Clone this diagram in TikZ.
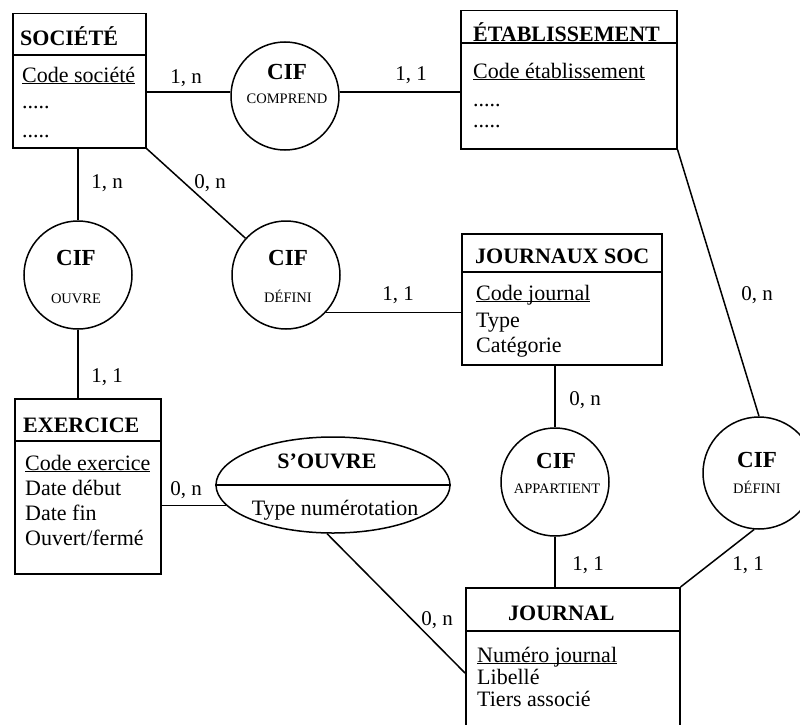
\documentclass[tikz,border=0pt]{standalone}
\usepackage{fontspec}
\setmainfont{Liberation Serif}
\usetikzlibrary{shapes.geometric}
\newcommand\ulk[1]{\underline{\smash{#1}}}
\begin{document}
\begin{tikzpicture}[x=1pt,y=-1pt,
  ent/.style={draw, line width=1.5pt, rectangle, inner sep=0, anchor=north west},
  rel/.style={draw, circle, line width=1.5pt, minimum size=108, inner sep=0},
  txt/.style={inner sep=0, anchor=base west, font=\fontsize{22}{26}\selectfont},
  ttl/.style={inner sep=0, anchor=base west, font=\fontsize{22}{26}\selectfont\bfseries},
  cif/.style={inner sep=0, anchor=base, font=\fontsize{23}{26}\selectfont\bfseries},
  sml/.style={inner sep=0, anchor=base, font=\fontsize{14.5}{16}\selectfont},
  card/.style={inner sep=0, anchor=base, font=\fontsize{21}{24}\selectfont},
  lnk/.style={line width=1.5pt},
  div/.style={line width=1.5pt}]
\useasboundingbox (0,0) rectangle (800,725);
\fill[white] (0,0) rectangle (800,725);

% ---------- entities ----------
\node[ent, minimum width=133, minimum height=134] (soc) at (12,13) {};
\draw[div] (soc.west |- 0,55) -- (soc.east |- 0,55);
\node[ttl] (socT) at (20,46) {SOCIÉTÉ};
\node[txt] (socA) at (22,82) {\ulk{Code société}};
\node[txt] (socB) at (22,108) {.....};
\node[txt] (socC) at (22,137) {.....};

\node[ent, minimum width=216, minimum height=138] (etab) at (460,10) {};
\draw[div] (etab.west |- 0,43) -- (etab.east |- 0,43);
\node[ttl] (etabT) at (473,42) {ÉTABLISSEMENT};
\node[txt] (etabA) at (473,78) {\ulk{Code établissement}};
\node[txt] (etabB) at (473,106) {.....};
\node[txt] (etabC) at (473,127) {.....};

\node[ent, minimum width=200, minimum height=131] (js) at (461,233) {};
\draw[div] (js.west |- 0,272) -- (js.east |- 0,272);
\node[ttl] (jsT) at (475,263) {JOURNAUX SOC};
\node[txt] (jsA) at (476,300) {\ulk{Code journal}};
\node[txt] (jsB) at (476,327) {Type};
\node[txt] (jsC) at (476,352) {Catégorie};

\node[ent, minimum width=146, minimum height=175] (ex) at (14,398) {};
\draw[div] (ex.west |- 0,441) -- (ex.east |- 0,441);
\node[ttl] (exT) at (23,432) {EXERCICE};
\node[txt] (exA) at (25,470) {\ulk{Code exercice}};
\node[txt] (exB) at (25,495) {Date début};
\node[txt] (exC) at (25,520) {Date fin};
\node[txt] (exD) at (25,545) {Ouvert/fermé};

\node[ent, minimum width=214, minimum height=150] (jour) at (465,587) {};
\draw[div] (jour.west |- 0,631) -- (jour.east |- 0,631);
\node[ttl] (jourT) at (508,620) {JOURNAL};
\node[txt] (jourA) at (477,662) {\ulk{Numéro journal}};
\node[txt] (jourB) at (477,684) {Libellé};
\node[txt] (jourC) at (477,706) {Tiers associé};

% ---------- relations ----------
\node[rel] (comp) at (285,96) {};
\node[cif] (compT) at (287,80) {CIF};
\node[sml] (compS) at (287,103) {COMPREND};

\node[rel] (ouvre) at (78,275) {};
\node[cif] (ouvreT) at (76,265) {CIF};
\node[sml] (ouvreS) at (76,303) {OUVRE};

\node[rel] (defl) at (286,275) {};
\node[cif] (deflT) at (288,265) {CIF};
\node[sml] (deflS) at (288,302) {DÉFINI};

\node[rel] (app) at (555,482) {};
\node[cif] (appT) at (556,468) {CIF};
\node[sml] (appS) at (557,493) {APPARTIENT};

\node[rel, minimum size=112] (defr) at (759,473) {};
\node[cif] (defrT) at (757,467) {CIF};
\node[sml] (defrS) at (757,493) {DÉFINI};

\node[draw, ellipse, line width=1.5pt, minimum width=234, minimum height=96, inner sep=0] (so) at (333,485) {};
\draw[div] (so.west) -- (so.east);
\node[cif, font=\fontsize{22}{26}\selectfont\bfseries] (soT) at (327,468) {S’OUVRE};
\node[txt, anchor=base] (soS) at (335,515) {Type numérotation};

% ---------- connectors ----------
\draw[lnk] (soc.east |- comp.176) -- (comp.176);
\draw[lnk] (comp.4) -- (comp.4 -| etab.west);
\draw[lnk] (ouvre.north |- soc.south) -- (ouvre.north);
\draw[lnk] (ouvre.south) -- (ouvre.south |- ex.north);
\draw[lnk] (soc.south east) -- (defl);
\draw[lnk] (defl.-43) -- (defl.-43 -| js.west);
\draw[lnk] (app.north |- js.south) -- (app.north);
\draw[lnk] (app.south) -- (app.south |- jour.north);
\draw[lnk] (etab.south east) -- (defr.north);
\draw[lnk] (defr.-95) -- (jour.north east);
\draw[lnk] (so.191) -- (so.191 -| ex.east);
\draw[lnk] (so.-97) -- ([yshift=-86pt]jour.north west);

% ---------- cardinalities ----------
\node[card] (c1) at (186,83) {1, n};
\node[card] (c2) at (411,81) {1, 1};
\node[card] (c3) at (107,188) {1, n};
\node[card] (c4) at (210,188) {0, n};
\node[card] (c5) at (107,382) {1, 1};
\node[card] (c6) at (398,300) {1, 1};
\node[card] (c7) at (757,300) {0, n};
\node[card] (c8) at (585,405) {0, n};
\node[card] (c9) at (186,495) {0, n};
\node[card] (c10) at (588,570) {1, 1};
\node[card] (c11) at (748,570) {1, 1};
\node[card] (c12) at (437,625) {0, n};
\end{tikzpicture}
\end{document}
